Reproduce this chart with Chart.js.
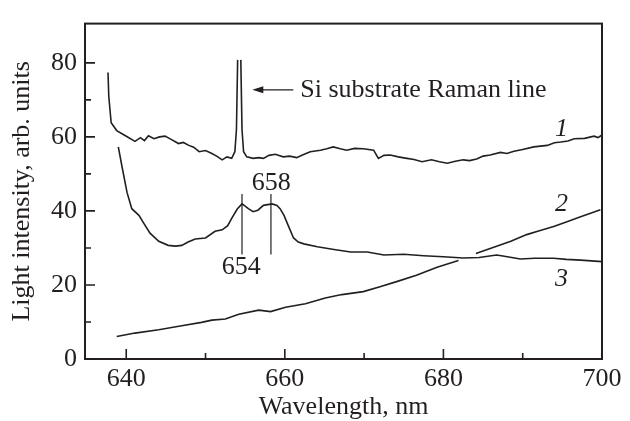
<!DOCTYPE html>
<html>
<head>
<meta charset="utf-8">
<script src="https://cdn.jsdelivr.net/npm/chart.js@4"></script>
<style>
  html, body { margin: 0; padding: 0; background: #fff; }
  #wrap { width: 630px; height: 421px; }
</style>
</head>
<body>
<div id="wrap"><canvas id="grafico"></canvas></div>
<script>
// curve 1 (with the Si Raman spike), null = gap between the two spike strokes
const WL_1 = [637.7, 637.8, 638.1, 638.8, 639.9, 641.1, 641.8, 642.3, 642.8, 643.5, 644.2, 644.9, 645.6, 646.6, 647.2, 647.9, 648.5, 649.2, 650.0, 650.8, 651.4, 652.1, 652.7, 653.3, 653.7, 653.9, 654.05, 654.25, 654.45, 654.6, 654.8, 655.2, 656.0, 656.7, 657.3, 658.0, 658.8, 659.8, 660.6, 661.5, 662.3, 663.2, 664.5, 665.3, 666.1, 667.0, 667.8, 668.8, 669.9, 671.2, 671.8, 672.5, 673.3, 674.3, 675.4, 676.3, 677.3, 678.5, 679.5, 680.5, 681.5, 682.5, 683.3, 684.2, 685.0, 685.9, 687.2, 688.0, 688.9, 690.0, 691.4, 693.1, 694.0, 694.8, 695.7, 696.5, 697.8, 699.0, 699.5, 700.0];
const INT_1 = [77.4, 70.9, 63.8, 61.7, 60.3, 58.8, 59.8, 59.0, 60.3, 59.5, 60.0, 60.2, 59.4, 58.2, 58.5, 57.7, 57.2, 56.0, 56.3, 55.5, 54.8, 53.8, 54.6, 54.2, 56.0, 62.0, 80.8, null, 80.8, 62.0, 56.0, 54.6, 54.2, 54.4, 54.2, 55.0, 55.3, 54.6, 54.8, 54.4, 55.2, 56.0, 56.4, 56.8, 57.3, 56.8, 56.4, 56.9, 56.8, 56.4, 54.2, 55.0, 55.1, 54.6, 54.2, 53.9, 53.3, 53.8, 53.3, 52.9, 53.4, 53.8, 53.6, 54.0, 54.8, 55.1, 55.8, 55.5, 56.1, 56.6, 57.3, 57.7, 58.4, 58.6, 58.9, 59.5, 59.6, 60.2, 59.8, 60.5];

// curve 2 (rising), gap where it crosses curve 3
const WL_2 = [638.8, 641.1, 644.1, 647.0, 649.5, 650.8, 652.5, 654.2, 656.7, 658.2, 660.1, 662.6, 665.1, 667.2, 669.9, 672.0, 674.1, 676.6, 679.2, 681.9, 683.0, 684.1, 686.8, 688.5, 690.5, 692.0, 693.9, 695.5, 697.3, 699.8];
const INT_2 = [6.1, 7.0, 7.9, 9.0, 9.9, 10.5, 10.8, 12.1, 13.2, 12.8, 14.0, 14.9, 16.5, 17.4, 18.2, 19.5, 20.9, 22.6, 24.8, 26.6, null, 28.5, 30.5, 31.8, 33.6, 34.6, 35.8, 37.0, 38.4, 40.3];

// curve 3 (654 / 658 peaks)
const WL_3 = [639.0, 639.5, 640.1, 640.7, 641.6, 642.2, 643.0, 644.1, 645.3, 646.2, 647.0, 647.8, 648.7, 650.0, 651.2, 652.1, 652.8, 653.3, 654.0, 654.6, 655.0, 655.4, 656.0, 656.6, 657.3, 658.4, 659.0, 659.4, 659.9, 660.3, 661.1, 661.7, 662.4, 664.1, 666.2, 668.3, 670.4, 672.5, 675.0, 677.5, 680.0, 682.5, 684.5, 686.7, 687.5, 689.7, 691.5, 693.9, 695.5, 697.3, 700.0];
const INT_3 = [57.3, 51.6, 45.0, 40.6, 38.8, 36.7, 34.0, 31.8, 30.7, 30.5, 30.7, 31.6, 32.4, 32.7, 34.5, 34.9, 36.0, 38.0, 40.5, 41.9, 41.3, 40.6, 39.8, 40.2, 41.5, 41.9, 41.5, 40.6, 38.8, 36.7, 32.7, 31.6, 31.1, 30.3, 29.6, 28.9, 28.9, 28.1, 28.3, 27.9, 27.6, 27.3, 27.4, 28.1, 27.8, 27.0, 27.2, 27.2, 26.9, 26.7, 26.3];

const PICOS = [654.6, 658.25];
const PICO_Y = [44.6, 28.2];

const X_TICKS = [640, 660, 680, 700];
const X_MINOR = [650, 670, 690];
const Y_TICKS = [0, 20, 40, 60, 80];
const Y_MINOR = [10, 30, 50, 70];

const FONTE = "'Liberation Serif', 'Times New Roman', serif";
const TINTA = "#231f20";

function pontos(xs, ys) {
  return xs.map(function(x, i) { return { x: x, y: ys[i] }; });
}

function serie(data, w) {
  return { data: data, borderColor: TINTA, borderWidth: w, pointRadius: 0, fill: false, tension: 0, spanGaps: false };
}

const extras = {
  id: "extras",
  afterDraw: function(c) {
    const ctx = c.ctx, a = c.chartArea;
    const sx = c.scales.x, sy = c.scales.y;
    ctx.save();
    ctx.strokeStyle = TINTA;
    ctx.fillStyle = TINTA;

    // frame
    ctx.lineWidth = 2;
    ctx.strokeRect(a.left, a.top, a.right - a.left, a.bottom - a.top);

    // inward ticks
    ctx.lineWidth = 1.6;
    ctx.beginPath();
    X_TICKS.forEach(function(v) { const p = sx.getPixelForValue(v); ctx.moveTo(p, a.bottom); ctx.lineTo(p, a.bottom - 10); });
    X_MINOR.forEach(function(v) { const p = sx.getPixelForValue(v); ctx.moveTo(p, a.bottom); ctx.lineTo(p, a.bottom - 6); });
    Y_TICKS.forEach(function(v) { const p = sy.getPixelForValue(v); ctx.moveTo(a.left, p); ctx.lineTo(a.left + 10, p); });
    Y_MINOR.forEach(function(v) { const p = sy.getPixelForValue(v); ctx.moveTo(a.left, p); ctx.lineTo(a.left + 6, p); });
    ctx.stroke();

    // arrow to the Raman line
    const ay = sy.getPixelForValue(72.7);
    const x0 = sx.getPixelForValue(661.07), x1 = sx.getPixelForValue(655.9);
    ctx.lineWidth = 1.3;
    ctx.beginPath(); ctx.moveTo(x0, ay); ctx.lineTo(x1 + 8, ay); ctx.stroke();
    ctx.beginPath(); ctx.moveTo(x1, ay); ctx.lineTo(x1 + 11, ay - 3.5); ctx.lineTo(x1 + 11, ay + 3.5); ctx.closePath(); ctx.fill();

    ctx.font = "26px " + FONTE;
    ctx.textBaseline = "middle";
    ctx.textAlign = "left";
    ctx.fillText("Si substrate Raman line", sx.getPixelForValue(661.95), ay + 0.5);

    ctx.textAlign = "center";
    ctx.fillText("654", sx.getPixelForValue(654.5), sy.getPixelForValue(24.8));
    ctx.fillText("658", sx.getPixelForValue(658.3), sy.getPixelForValue(47.4));

    ctx.font = "italic 26px " + FONTE;
    ctx.fillText("1", sx.getPixelForValue(694.9), sy.getPixelForValue(62.2));
    ctx.fillText("2", sx.getPixelForValue(694.9), sy.getPixelForValue(41.9));
    ctx.fillText("3", sx.getPixelForValue(694.9), sy.getPixelForValue(21.5));
    ctx.restore();
  }
};

new Chart(document.getElementById("grafico"), {
  type: "line",
  data: {
    datasets: [
      serie(pontos(WL_1, INT_1), 1.6),
      serie(pontos(WL_2, INT_2), 1.6),
      serie(pontos(WL_3, INT_3), 1.6),
      serie(pontos([PICOS[0], PICOS[0]], PICO_Y), 1.2),
      serie(pontos([PICOS[1], PICOS[1]], PICO_Y), 1.2)
    ]
  },
  options: {
    responsive: true,
    maintainAspectRatio: false,
    animation: false,
    layout: { padding: { left: 0, top: 15, right: 28, bottom: 0 } },
    plugins: { legend: { display: false }, tooltip: { enabled: false } },
    scales: {
      x: {
        type: "linear", min: 634.8, max: 700,
        grid: { display: false, drawTicks: false },
        border: { display: false },
        afterBuildTicks: function(s) { s.ticks = X_TICKS.map(function(v) { return { value: v }; }); },
        afterFit: function(s) { s.height = 62; },
        ticks: { padding: 5, color: TINTA, font: { family: FONTE, size: 26 }, maxRotation: 0 },
        title: { display: true, text: "Wavelength, nm", color: TINTA, font: { family: FONTE, size: 26 }, padding: { top: 0, bottom: -2 } }
      },
      y: {
        type: "linear", min: 0, max: 90.6,
        grid: { display: false, drawTicks: false },
        border: { display: false },
        afterBuildTicks: function(s) { s.ticks = Y_TICKS.map(function(v) { return { value: v }; }); },
        afterFit: function(s) { s.width = 85; },
        ticks: { padding: 8, color: TINTA, font: { family: FONTE, size: 26 } },
        title: { display: true, text: "Light intensity, arb. units", color: TINTA, font: { family: FONTE, size: 26 }, padding: { top: 7, bottom: 0 } }
      }
    }
  },
  plugins: [extras]
});
</script>
</body>
</html>
